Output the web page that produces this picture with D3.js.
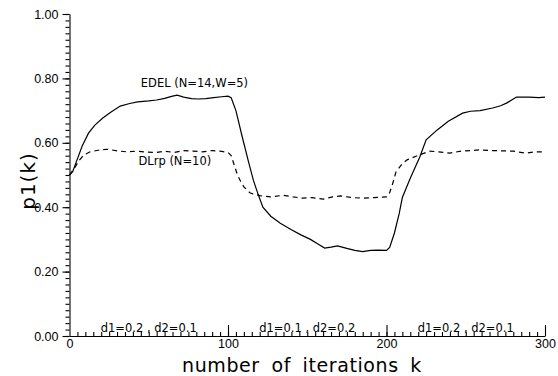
<!DOCTYPE html>
<html>
<head>
<meta charset="UTF-8">
<title>p1(k)</title>
<style>
    body { margin: 0; background: #fff; }
    svg { font-family: "DejaVu Sans", Arial, sans-serif; }
    .axis path, .axis line { stroke: #000; stroke-width: 1.1; }
    .axis text { fill: #000; }
</style>
</head>
<body>
<div id="chart"></div>
<script src="https://cdnjs.cloudflare.com/ajax/libs/d3/7.8.5/d3.min.js"></script>
<script>
    // iterations k and p1(k) for both schemes
    var edelK = [0, 2, 5, 8, 12, 16, 21, 26, 32, 38, 43, 50, 55, 60, 65, 68, 72, 77, 81, 86, 91, 96, 100,
        102, 105, 109, 113, 116, 119, 122, 127, 133, 140, 146, 152, 157, 161, 165, 169, 175, 180, 185, 190, 195, 200,
        202, 205, 208, 210, 215, 221, 225, 232, 239, 248, 253, 259, 267, 272, 276, 282, 290, 296, 300];
    var edelP = [0.50, 0.51, 0.55, 0.59, 0.63, 0.655, 0.677, 0.695, 0.714, 0.722, 0.727, 0.730, 0.733, 0.738, 0.745, 0.748, 0.742, 0.737, 0.736, 0.737, 0.740, 0.743, 0.745,
        0.740, 0.700, 0.618, 0.540, 0.484, 0.440, 0.400, 0.372, 0.350, 0.330, 0.314, 0.300, 0.285, 0.273, 0.276, 0.280, 0.272, 0.266, 0.262, 0.266, 0.267, 0.266,
        0.275, 0.320, 0.380, 0.430, 0.490, 0.556, 0.609, 0.640, 0.667, 0.692, 0.698, 0.700, 0.708, 0.715, 0.724, 0.742, 0.742, 0.740, 0.742];

    var dlrpK = [0, 3, 6, 9, 13, 19, 24, 30, 36, 42, 48, 55, 60, 66, 72, 78, 84, 90, 95, 100,
        102, 104, 106, 108, 110, 114, 120, 127, 135, 141, 147, 153, 160, 166, 171, 178, 185, 192, 200,
        202, 204, 206, 210, 213, 219, 227, 233, 240, 247, 253, 259, 266, 273, 280, 288, 294, 300];
    var dlrpP = [0.50, 0.52, 0.545, 0.562, 0.572, 0.578, 0.580, 0.575, 0.572, 0.574, 0.571, 0.570, 0.574, 0.570, 0.576, 0.574, 0.572, 0.576, 0.574, 0.570,
        0.560, 0.530, 0.500, 0.480, 0.463, 0.444, 0.436, 0.432, 0.437, 0.432, 0.428, 0.430, 0.425, 0.432, 0.435, 0.430, 0.428, 0.430, 0.432,
        0.445, 0.475, 0.510, 0.535, 0.547, 0.559, 0.574, 0.572, 0.568, 0.574, 0.576, 0.578, 0.576, 0.575, 0.574, 0.568, 0.572, 0.572];

    var seriesNames = ["EDEL (N=14,W=5)", "DLrp (N=10)"];
    var labelK = [45, 43.5];
    var labelP = [0.773, 0.532];

    var yMajor = [0, 0.2, 0.4, 0.6, 0.8, 1.0];
    var xMajor = [0, 100, 200, 300];
    var phaseCenters = [50, 150, 250];
    var phaseText = ["d1=0.2 , d2=0.1", "d1=0.1 , d2=0.2", "d1=0.2 , d2=0.1"];

    var W = 558, H = 376;
    var svg = d3.select("#chart").append("svg")
        .attr("width", W).attr("height", H);

    var x = d3.scaleLinear().domain([0, 300]).range([69.5, 545]);
    var y = d3.scaleLinear().domain([0, 1]).range([336, 14]);

    // y axis: minor ticks every 0.02, major every 0.2
    svg.append("g").attr("class", "axis")
        .attr("transform", "translate(" + x(0) + ",0)")
        .call(d3.axisLeft(y).tickValues(d3.range(0, 1.001, 0.02)).tickSize(4).tickSizeOuter(0).tickFormat(""));
    svg.append("g").attr("class", "axis")
        .attr("transform", "translate(" + x(0) + ",0)")
        .call(d3.axisLeft(y).tickValues(yMajor).tickSize(7).tickPadding(4).tickFormat(d3.format(".2f")))
        .call(function (g) { g.select(".domain").remove(); })
        .selectAll("text").style("font-size", "12.5px");

    // x axis: minor ticks upward every 5
    svg.append("g").attr("class", "axis")
        .attr("transform", "translate(0," + y(0) + ")")
        .call(d3.axisBottom(x).tickValues(d3.range(5, 300, 5)).tickSize(-4).tickSizeOuter(0).tickFormat(""));
    svg.append("g").attr("class", "axis")
        .attr("transform", "translate(0," + y(0) + ")")
        .call(d3.axisBottom(x).tickValues([100, 200, 300]).tickSize(-11).tickFormat(""))
        .call(function (g) { g.select(".domain").remove(); });
    svg.append("g").attr("class", "axis")
        .attr("transform", "translate(0," + y(0) + ")")
        .call(d3.axisBottom(x).tickValues(xMajor).tickSize(0).tickPadding(3).tickFormat(d3.format("d")))
        .call(function (g) { g.select(".domain").remove(); })
        .selectAll("text").style("font-size", "12.5px");

    // phase labels on the axis
    svg.selectAll(".phase").data(phaseCenters).enter().append("text")
        .attr("class", "phase")
        .attr("x", function (d) { return x(d); })
        .attr("y", y(0) - 4)
        .attr("text-anchor", "middle")
        .style("font-size", "11.5px")
        .text(function (d, i) { return phaseText[i]; });

    // axis titles
    svg.append("text")
        .attr("x", 302).attr("y", 372)
        .attr("text-anchor", "middle")
        .style("font-size", "19px")
        .style("letter-spacing", "0.6px")
        .style("word-spacing", "5px")
        .text("number of iterations k");
    svg.append("text")
        .attr("transform", "translate(35,181) rotate(-90)")
        .attr("text-anchor", "middle")
        .style("font-size", "20px")
        .style("letter-spacing", "1px")
        .text("p1(k)");

    var line = d3.line()
        .x(function (d) { return x(d[0]); })
        .y(function (d) { return y(d[1]); });

    svg.append("path")
        .datum(d3.zip(edelK, edelP))
        .attr("d", line)
        .attr("fill", "none").attr("stroke", "#000").attr("stroke-width", 1.2);

    svg.append("path")
        .datum(d3.zip(dlrpK, dlrpP))
        .attr("d", line)
        .attr("fill", "none").attr("stroke", "#000").attr("stroke-width", 1.2)
        .attr("stroke-dasharray", "5,4");

    svg.selectAll(".lbl").data(seriesNames).enter().append("text")
        .attr("class", "lbl")
        .attr("x", function (d, i) { return x(labelK[i]); })
        .attr("y", function (d, i) { return y(labelP[i]); })
        .style("font-size", "11.5px")
        .text(function (d) { return d; });
</script>
</body>
</html>
